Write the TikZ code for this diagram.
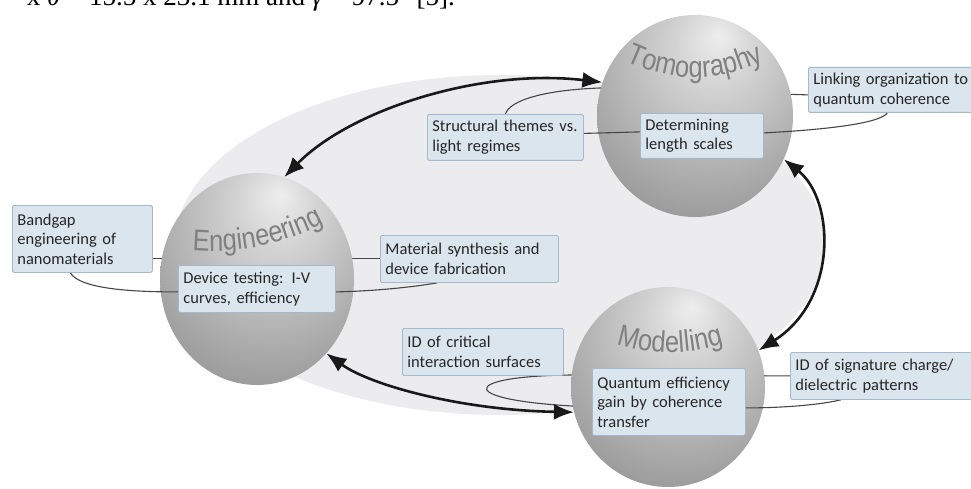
\documentclass[tikz,border=0pt]{standalone}
\usepackage{fontspec}
\setmainfont{Carlito}
\newfontfamily\tnr{Liberation Serif}
\newfontfamily\lblfont[FakeStretch=0.85]{Liberation Sans}
\usetikzlibrary{shapes.geometric,arrows.meta,decorations.text}

\definecolor{bgc}{RGB}{236,236,238}
\definecolor{boxfill}{RGB}{219,229,238}
\definecolor{boxline}{RGB}{165,185,205}
\definecolor{conn}{RGB}{70,70,70}
\definecolor{lblfill}{RGB}{128,128,128}
\definecolor{sA}{RGB}{238,238,238}
\definecolor{sB}{RGB}{212,212,212}
\definecolor{sC}{RGB}{165,165,165}
\definecolor{sD}{RGB}{112,112,112}
\definecolor{sE}{RGB}{80,80,80}

\pgfdeclareradialshading{sphereshade}{\pgfpoint{6bp}{20bp}}{%
  color(0bp)=(sA); color(10bp)=(sB); color(32bp)=(sC); color(58bp)=(sD); color(80bp)=(sE)}

\pgfdeclarelayer{bglayer}
\pgfdeclarelayer{behindlayer}
\pgfdeclarelayer{spherelayer}
\pgfdeclarelayer{frontlayer}
\pgfsetlayers{bglayer,behindlayer,spherelayer,frontlayer,main}

\tikzset{
  ball/.style={ellipse, shade, shading=sphereshade, inner sep=0pt, draw=none},
  infobox/.style={draw=boxline, fill=boxfill, rounded corners=1.5pt, line width=0.8pt,
    align=left, inner xsep=5pt, inner ysep=2pt, anchor=north west, text=black!85,
    font=\fontsize{16.5}{19.5}\selectfont},
  conn/.style={draw=conn, line width=1.1pt},
  bigarrow/.style={line width=2.6pt, draw=black!90,
    {Latex[length=20pt,width=16pt]}-{Latex[length=20pt,width=16pt]}},
}

\newcommand\spherelabel[2]{%
  \path[decorate, decoration={text along path, text align=center,
      text color=lblfill, text={|\lblfont\fontsize{30}{30}\selectfont|#2}}] #1;}

\begin{document}
\begin{tikzpicture}[x=1pt,y=-1pt]
\useasboundingbox (0,0) rectangle (971,489);

% boxes
\node[infobox, text width=158, minimum height=45] (link) at (808,67) {Linking organization to\\quantum coherence};
\node[infobox, text width=146, minimum height=46] (struct) at (427,114) {Structural themes vs.\\light regimes};
\node[infobox, text width=113, minimum height=45] (det) at (640,113) {Determining\\length scales};
\node[infobox, text width=130, minimum height=67] (band) at (12,205) {Bandgap\\engineering of\\nanomaterials};
\node[infobox, text width=147, minimum height=47] (dev) at (178,265) {Device testing: I-V\\curves, efficiency};
\node[infobox, text width=168, minimum height=47] (mat) at (380,235) {Material synthesis and\\device fabrication};
\node[infobox, text width=151, minimum height=47] (crit) at (402,328) {ID of critical\\interaction surfaces};
\node[infobox, text width=143, minimum height=67] (qbox) at (592,368) {Quantum efficiency\\gain by coherence\\transfer};
\node[infobox, text width=175, minimum height=47] (sig) at (790,352) {ID of signature charge/\\dielectric patterns};

% spheres
\begin{pgfonlayer}{spherelayer}
\node[ball, minimum width=196, minimum height=202] (tom) at (695,116) {};
\node[ball, minimum width=194, minimum height=212] (eng) at (257,279) {};
\node[ball, minimum width=194, minimum height=200] (mod) at (668,387) {};
\end{pgfonlayer}

% background
\begin{pgfonlayer}{bglayer}
\fill[bgc] (500,245) ellipse [x radius=325pt, y radius=170pt];
\end{pgfonlayer}

% connectors behind spheres
\begin{pgfonlayer}{behindlayer}
\draw[conn] (struct.north) .. controls (510,100) and (545,90) .. (600,88) -- ([yshift=-5pt]link.west);
\draw[conn] (band.east |- mat.west) -- (mat.west);
\draw[conn] (sig.west) -- (572,375) .. controls (455,376) and (455,402) .. ([yshift=-5pt]qbox.west);
\end{pgfonlayer}

% connectors in front, labels
\begin{pgfonlayer}{frontlayer}
\draw[conn] ([yshift=4pt]struct.east) -- ([yshift=4pt]det.west);
\draw[conn] ([xshift=-5pt]link.south) .. controls (880,124) and (820,130) .. ([yshift=3pt]det.east);
\draw[conn] ([xshift=-12pt]band.south) .. controls (80,290) and (140,292) .. ([yshift=-3pt]dev.west);
\draw[conn] ([yshift=-3pt]dev.east) .. controls (380,291) and (420,286) .. ([xshift=-32pt]mat.south);
\draw[conn] ([xshift=-42pt]sig.south) .. controls (820,405) and (780,408) .. ([yshift=-6pt]qbox.east);
\spherelabel{(608,51.7) .. controls (666.7,86) and (723.3,86) .. (782,51.7)}{Tomography}
\spherelabel{(176,248) .. controls (228,257) and (290,246) .. (338,215)}{Engineering}
\spherelabel{(598,337.3) .. controls (646.7,357.5) and (693.3,357.5) .. (742,337.3)}{Modelling}
\end{pgfonlayer}

% arrows
\draw[bigarrow] (eng.75) .. controls (350,110) and (480,68) .. (tom.160);
\draw[bigarrow] (tom.-26) .. controls (835,200) and (838,300) .. (mod.22);
\draw[bigarrow] (eng.-47) .. controls (370,385) and (460,410) .. (mod.195);

% cropped caption line at the top
\node[anchor=base east, inner sep=0pt, font=\tnr\fontsize{27}{27}\selectfont] (cap) at (455,6)
  {x \textit{θ} = 15.5 x 23.1 mm and \textit{γ} = 97.5° [5].};
\end{tikzpicture}
\end{document}
